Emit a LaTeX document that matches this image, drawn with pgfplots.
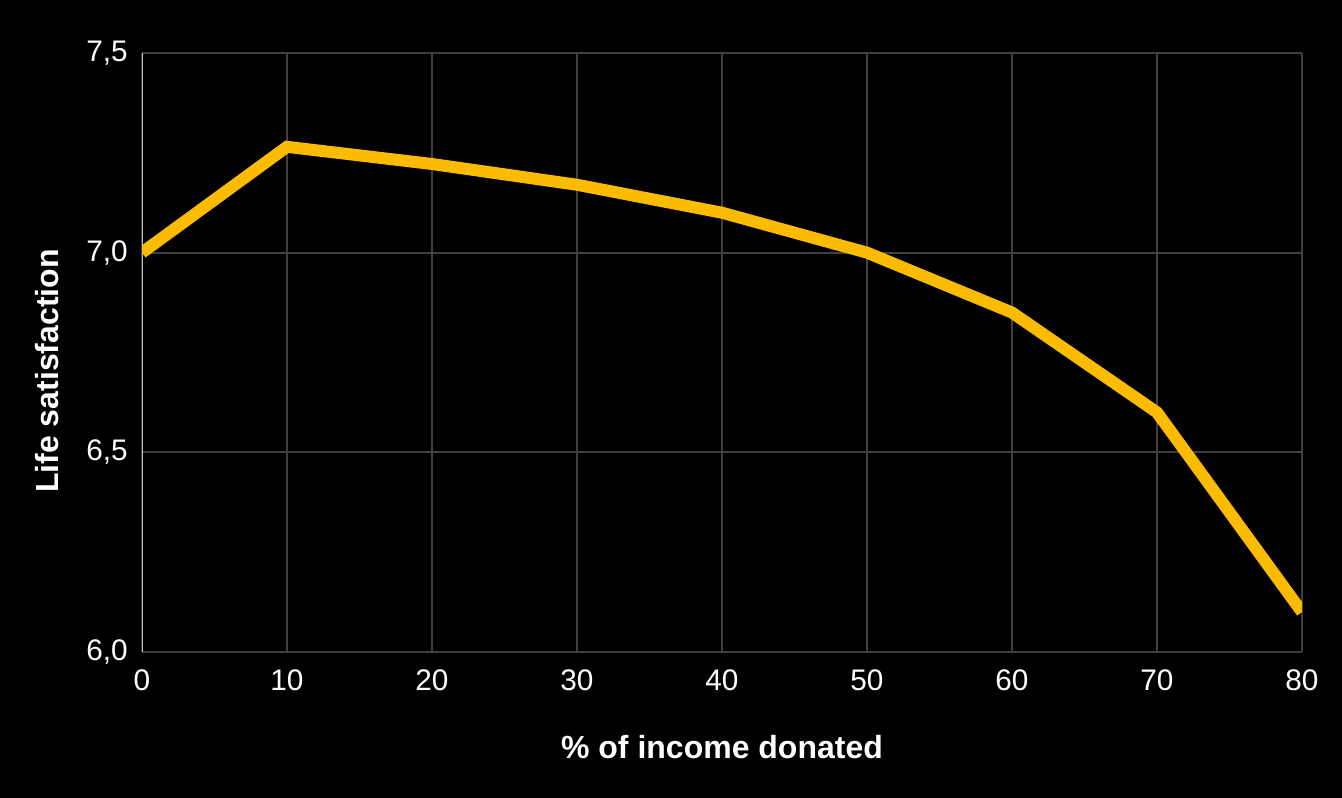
\documentclass[border=0pt]{standalone}
\usepackage{pgfplots}
\pgfplotsset{compat=1.18}
\usepackage{fontspec}
\setmainfont{Liberation Sans}
\definecolor{gold}{HTML}{FBBC00}
\definecolor{gridgray}{HTML}{404040}
\definecolor{axgray}{HTML}{BFBFBF}
\begin{document}
\begin{tikzpicture}[x=0.4pt,y=0.4pt]
\fill[black] (0,0) rectangle (1342,798);
\useasboundingbox (0,0) rectangle (1342,798);
\begin{axis}[
  at={(56.8pt,58.4pt)}, anchor=south west,
  width=464pt, height=239.6pt, scale only axis,
  xmin=0, xmax=80, ymin=6.0, ymax=7.5,
  xtick={0,10,...,80}, ytick={6.0,6.5,7.0,7.5},
  /pgf/number format/assume math mode=true,
  /pgf/number format/use comma,
  /pgf/number format/fixed, /pgf/number format/fixed zerofill,
  /pgf/number format/precision=1,
  xticklabel style={/pgf/number format/precision=0,/pgf/number format/fixed zerofill=false},
  grid=both, major grid style={gridgray, line width=0.8pt},
  axis line style={draw=none},
  tick style={draw=none},
  ticklabel style={text=white, font=\fontsize{11.9pt}{14pt}\selectfont},
  yticklabel style={xshift=-2.2pt},
  xticklabel style={yshift=-3.6pt},
  xlabel={\bfseries \% of income donated},
  ylabel={\bfseries Life satisfaction},
  label style={text=white, font=\fontsize{12.8pt}{15pt}\selectfont},
  xlabel style={at={(axis description cs:0.5,-0.1586)}, anchor=center},
  ylabel style={at={(axis description cs:-0.0819,0.469)}, anchor=center},
]
\draw[gridgray, line width=0.8pt] (axis cs:0,7.5) -- (axis cs:80,7.5) -- (axis cs:80,6.0) -- (axis cs:0,6.0);
\draw[axgray, line width=0.8pt] (axis cs:0,6.0) -- (axis cs:0,7.5);
\addplot[gold, line width=4.8pt, line join=miter] coordinates {
 (0,7.0) (10,7.265) (20,7.222) (30,7.17) (40,7.10) (50,7.0) (60,6.85) (70,6.60) (80,6.10)
};
\end{axis}
\end{tikzpicture}
\end{document}
